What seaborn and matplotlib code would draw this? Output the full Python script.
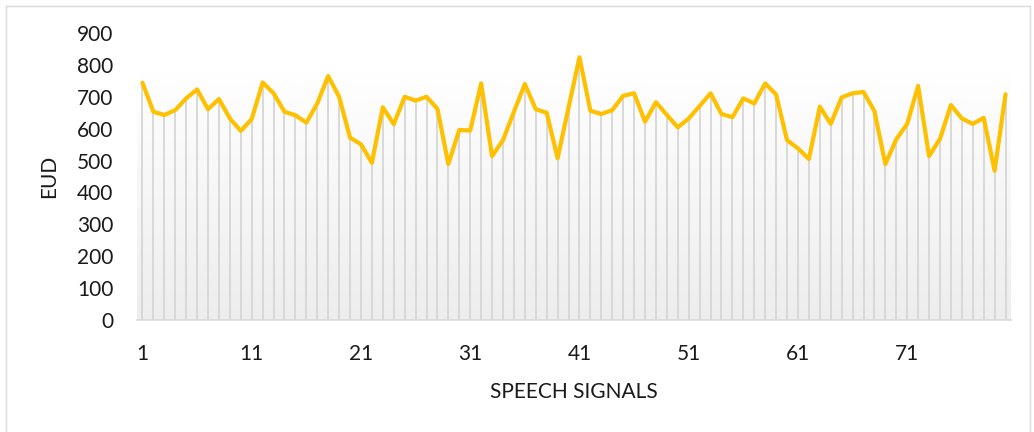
import numpy as np
import pandas as pd
import matplotlib
matplotlib.use("Agg")
import matplotlib.pyplot as plt
from matplotlib.colors import LinearSegmentedColormap
from matplotlib.patches import Rectangle
import seaborn as sns

# EUD per speech signal
signals = list(range(1, 81))
eud = [744, 653, 643, 658, 695, 723, 661, 693, 632, 593,
       630, 745, 711, 653, 642, 619, 679, 765, 700, 572,
       551, 493, 667, 614, 700, 688, 700, 662, 489, 596,
       594, 742, 514, 564, 653, 740, 661, 650, 507, 666,
       824, 656, 646, 658, 703, 711, 622, 683, 643, 604,
       632, 671, 711, 646, 636, 695, 679, 742, 707, 564,
       538, 505, 669, 615, 698, 711, 715, 655, 489, 567,
       615, 734, 514, 568, 674, 632, 615, 634, 468, 708]
x_ticks = [1, 11, 21, 31, 41, 51, 61, 71]
y_ticks = [0, 100, 200, 300, 400, 500, 600, 700, 800, 900]

df = pd.DataFrame({"signal": signals, "eud": eud})

sns.set_theme(style="white")
plt.rcParams["font.family"] = ["Lato", "DejaVu Sans"]

W, H = 1034, 432
fig = plt.figure(figsize=(W / 100, H / 100), dpi=100)
ax = fig.add_axes([137 / W, (H - 320) / H, (1011 - 137) / W, (320 - 33) / H])

# soft vertical gradient behind the plot area
cmap = LinearSegmentedColormap.from_list("plotfill", ["#ededed", "#ffffff"])
grad = np.linspace(0, 1, 256).reshape(-1, 1)
ax.imshow(grad, cmap=cmap, origin="lower", aspect="auto",
          extent=[0.5, 80.5, 0, 780], zorder=0, vmin=0, vmax=1)

# drop lines from each point to the axis
ax.vlines(df["signal"], 0, df["eud"], color="#d6d6d6", lw=1.3, zorder=1)

sns.lineplot(data=df, x="signal", y="eud", color="#FFC000", lw=3.0,
             ax=ax, zorder=3)

ax.set_xlim(0.5, 80.5)
ax.set_ylim(0, 900)
ax.set_xticks(x_ticks)
ax.set_yticks(y_ticks)
ax.set_xticklabels([str(t) for t in x_ticks])
ax.set_yticklabels([str(t) for t in y_ticks])
ax.tick_params(axis="both", length=0, labelsize=15, colors="#1a1a1a")
ax.tick_params(axis="y", pad=17)
ax.tick_params(axis="x", pad=17)
for s in ["top", "right", "left"]:
    ax.spines[s].set_visible(False)
ax.spines["bottom"].set_color("#d9d9d9")
ax.spines["bottom"].set_linewidth(1.2)
ax.set_facecolor("white")
ax.grid(False)

ax.set_xlabel("SPEECH SIGNALS", fontsize=15, color="#1a1a1a", labelpad=13)
ax.set_ylabel("EUD", fontsize=15, color="#1a1a1a", labelpad=13)

# outer chart border
fig.add_artist(Rectangle((5.5 / W, -0.01), (1029.5 - 5.5) / W, (H - 5.5) / H + 0.01,
                         transform=fig.transFigure, fill=False,
                         edgecolor="#d9d9d9", lw=1.0))

fig.savefig("out.png", dpi=100)
